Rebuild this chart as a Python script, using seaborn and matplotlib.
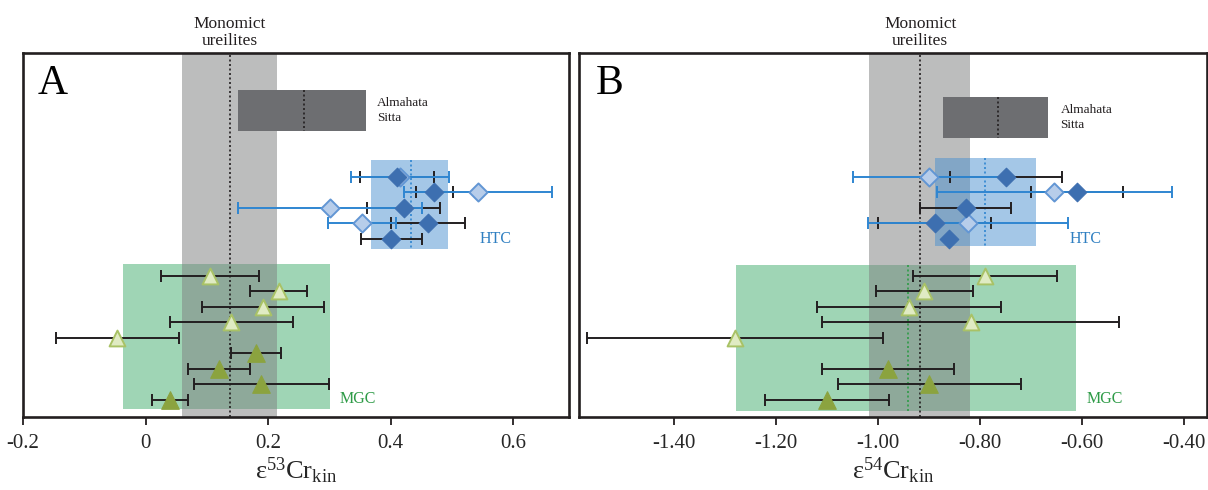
import numpy as np
import pandas as pd
import matplotlib
matplotlib.use("Agg")
import matplotlib.pyplot as plt
import seaborn as sns

# ---------------- data ----------------
# Panel A: e53Cr_kin
A_mono = (0.060, 0.215, 0.137)          # lo, hi, mean (monomict ureilites)
A_alm = (0.151, 0.360, 0.258)           # Almahata Sitta
A_htc = (0.368, 0.493, 0.433)           # HTC range
A_mgc = (-0.037, 0.301, 0.137)          # MGC range

A_htc_dark_x = [0.410, 0.471, 0.421, 0.461, 0.401]
A_htc_dark_e = [0.060, 0.030, 0.060, 0.060, 0.050]
A_htc_dark_row = [0, 1, 2, 3, 4]
A_htc_light_x = [0.415, 0.542, 0.301, 0.353]
A_htc_light_e = [0.080, 0.121, 0.150, 0.055]
A_htc_light_row = [0, 1, 2, 3]

A_mgc_light_x = [0.105, 0.217, 0.192, 0.140, -0.046]
A_mgc_light_e = [0.080, 0.046, 0.100, 0.100, 0.100]
A_mgc_light_row = [0, 1, 2, 3, 4]
A_mgc_dark_x = [0.180, 0.120, 0.189, 0.040]
A_mgc_dark_e = [0.041, 0.050, 0.110, 0.030]
A_mgc_dark_row = [5, 6, 7, 8]

# Panel B: e54Cr_kin
B_mono = (-1.018, -0.820, -0.917)
B_alm = (-0.873, -0.667, -0.764)
B_htc = (-0.889, -0.690, -0.790)
B_mgc = (-1.279, -0.612, -0.941)

B_htc_dark_x = [-0.749, -0.610, -0.828, -0.889, -0.860]
B_htc_dark_e = [0.110, 0.090, 0.089, 0.111, np.nan]
B_htc_dark_row = [0, 1, 2, 3, 4]
B_htc_light_x = [-0.899, -0.654, -0.824]
B_htc_light_e = [0.150, 0.231, 0.196]
B_htc_light_row = [0, 1, 3]

B_mgc_light_x = [-0.790, -0.909, -0.939, -0.818, -1.280]
B_mgc_light_e = [0.141, 0.095, 0.181, 0.291, 0.290]
B_mgc_light_row = [0, 1, 2, 3, 4]
B_mgc_dark_x = [-0.980, -0.899, -1.100]
B_mgc_dark_e = [0.130, 0.180, 0.121]
B_mgc_dark_row = [6, 7, 8]

A_ticks = [-0.2, 0, 0.2, 0.4, 0.6]
A_ticklabels = ["-0.2", "0", "0.2", "0.4", "0.6"]
B_ticks = [-1.40, -1.20, -1.00, -0.80, -0.60, -0.40]
B_ticklabels = ["-1.40", "-1.20", "-1.00", "-0.80", "-0.60", "-0.40"]

# ---------------- style ----------------
sns.set_theme(style="white")
SERIF = ["Liberation Serif", "DejaVu Serif"]
plt.rcParams["font.family"] = SERIF
plt.rcParams["mathtext.fontset"] = "custom"
plt.rcParams["mathtext.rm"] = "Liberation Serif"
plt.rcParams["mathtext.it"] = "Liberation Serif:italic"

C_GRAY = "#808182"
C_ALM = "#6d6e71"
C_BLUEBOX = "#4a90d0"
C_GREENBOX = "#9fd5b5"
C_BLUE = "#2f86d1"
C_BLACK = "#231f20"
C_DDIA = "#3d6fb0"
C_LDIA = "#b7cdea"
C_LDIA_E = "#6296d4"
C_LTRI = "#e0ebc3"
C_LTRI_E = "#a9c266"
C_DTRI = "#8ba33f"
C_HTC_TXT = "#2f7fc1"
C_MGC_TXT = "#2e9b47"

HTC0 = 8.0      # first HTC row (row units, top = 0)
MGC0 = 14.4     # first MGC row
YMAX = 23.5

fig = plt.figure(figsize=(12.08, 4.9), dpi=100)
W, H = 1208, 490
axA = fig.add_axes([23 / W, 1 - 417 / H, (569 - 23) / W, (417 - 52.7) / H])
axB = fig.add_axes([579 / W, 1 - 417 / H, (1207 - 579) / W, (417 - 52.7) / H])


def panel(ax, letter, xlim, mono, alm, htc, mgc, alm_y, htc_y, mgc_y,
          hd, hl, ml, md, ticks, ticklabels, sup, green_dot, htc_off):
    span = xlim[1] - xlim[0]
    ax.set_xlim(*xlim)
    ax.set_ylim(YMAX, 0)
    # MGC box
    ax.fill_between([mgc[0], mgc[1]], mgc_y[0], mgc_y[1], color=C_GREENBOX,
                    lw=0, zorder=1)
    # monomict band
    ax.axvspan(mono[0], mono[1], color=C_GRAY, alpha=0.52, lw=0, zorder=2)
    # HTC box
    ax.fill_between([htc[0], htc[1]], htc_y[0], htc_y[1], color=C_BLUEBOX,
                    alpha=0.5, lw=0, zorder=2.5)
    # Almahata box
    ax.fill_between([alm[0], alm[1]], alm_y[0], alm_y[1], color=C_ALM,
                    lw=0, zorder=3)
    # dotted means
    ax.axvline(mono[2], color=C_BLACK, ls=(0, (1.2, 1.5)), lw=1.2, zorder=3.5)
    ax.plot([alm[2], alm[2]], alm_y, color=C_BLACK, ls=(0, (1.2, 1.5)),
            lw=1.2, zorder=3.6)
    ax.plot([htc[2], htc[2]], htc_y, color=C_BLUE, ls=(0, (1.2, 1.5)),
            lw=1.2, zorder=3.6)
    if green_dot:
        ax.plot([mgc[2], mgc[2]], mgc_y, color=C_MGC_TXT, ls=(0, (1.2, 1.5)),
                lw=1.2, zorder=3.6)

    ekw = dict(fmt="none", capsize=4, elinewidth=1.4, capthick=1.4)
    hdx, hde, hdr = hd
    hdy = [HTC0 + r for r in hdr]
    ax.errorbar(hdx, hdy, xerr=hde, ecolor=C_BLACK, zorder=4, **ekw)
    hlx, hle, hlr = hl
    hly = [HTC0 + r for r in hlr]
    ax.errorbar(hlx, hly, xerr=hle, ecolor=C_BLUE, zorder=4.2, **ekw)
    mlx, mle, mlr = ml
    mly = [MGC0 + r for r in mlr]
    ax.errorbar(mlx, mly, xerr=mle, ecolor=C_BLACK, zorder=4, **ekw)
    mdx, mde, mdr = md
    mdy = [MGC0 + r for r in mdr]
    ax.errorbar(mdx, mdy, xerr=mde, ecolor=C_BLACK, zorder=4, **ekw)

    sns.scatterplot(x=hlx, y=hly, marker="D", s=85, color=C_LDIA,
                    edgecolor=C_LDIA_E, linewidth=1.4, ax=ax, zorder=5)
    sns.scatterplot(x=hdx, y=hdy, marker="D", s=90, color=C_DDIA,
                    edgecolor=C_DDIA, linewidth=0.8, ax=ax, zorder=5.5)
    sns.scatterplot(x=mlx, y=mly, marker="^", s=130, color=C_LTRI,
                    edgecolor=C_LTRI_E, linewidth=1.4, ax=ax, zorder=5)
    sns.scatterplot(x=mdx, y=mdy, marker="^", s=160, color=C_DTRI,
                    edgecolor=C_DTRI, linewidth=0.8, ax=ax, zorder=5)

    # texts
    ax.text(0.026, 0.968, letter, transform=ax.transAxes, fontsize=30,
            va="top", ha="left", color="black")
    ax.text(mono[2], 1.01, "Monomict\nureilites",
            transform=ax.get_xaxis_transform(), ha="center", va="bottom",
            fontsize=12.5, linespacing=1.1, color="#231f20")
    ax.text(alm[1] + 0.02 * span, np.mean(alm_y),
            "Almahata\nSitta", ha="left", va="center", fontsize=9.5,
            linespacing=1.3, color="#231f20", zorder=6)
    ax.text(htc[1] + htc_off * span, HTC0 + 4.0, "HTC", ha="left",
            va="center", fontsize=11.5, color=C_HTC_TXT, zorder=6)
    ax.text(mgc[1] + 0.017 * span, MGC0 + 7.95, "MGC",
            ha="left", va="center", fontsize=11.5, color=C_MGC_TXT, zorder=6)

    ax.set_xticks(ticks)
    ax.set_xticklabels(ticklabels, fontsize=15)
    ax.set_yticks([])
    ax.tick_params(axis="x", bottom=True, direction="out", length=6,
                   width=1.3, color=C_BLACK, pad=6)
    for sp in ax.spines.values():
        sp.set_linewidth(1.9)
        sp.set_color(C_BLACK)
        sp.set_visible(True)
    ax.set_xlabel(r"ε$^{" + sup + r"}$Cr$_{\mathrm{kin}}$", fontsize=19,
                  labelpad=2)
    ax.set_ylabel("")


panel(axA, "A", (-0.2, 0.691), A_mono, A_alm, A_htc, A_mgc,
      (2.41, 5.05), (6.92, 12.66), (13.63, 22.99),
      (A_htc_dark_x, A_htc_dark_e, A_htc_dark_row),
      (A_htc_light_x, A_htc_light_e, A_htc_light_row),
      (A_mgc_light_x, A_mgc_light_e, A_mgc_light_row),
      (A_mgc_dark_x, A_mgc_dark_e, A_mgc_dark_row),
      A_ticks, A_ticklabels, "53", False, 0.058)

panel(axB, "B", (-1.586, -0.355), B_mono, B_alm, B_htc, B_mgc,
      (2.86, 5.5), (6.79, 12.5), (13.7, 23.1),
      (B_htc_dark_x, B_htc_dark_e, B_htc_dark_row),
      (B_htc_light_x, B_htc_light_e, B_htc_light_row),
      (B_mgc_light_x, B_mgc_light_e, B_mgc_light_row),
      (B_mgc_dark_x, B_mgc_dark_e, B_mgc_dark_row),
      B_ticks, B_ticklabels, "54", True, 0.054)

fig.savefig("out.png", dpi=100)
